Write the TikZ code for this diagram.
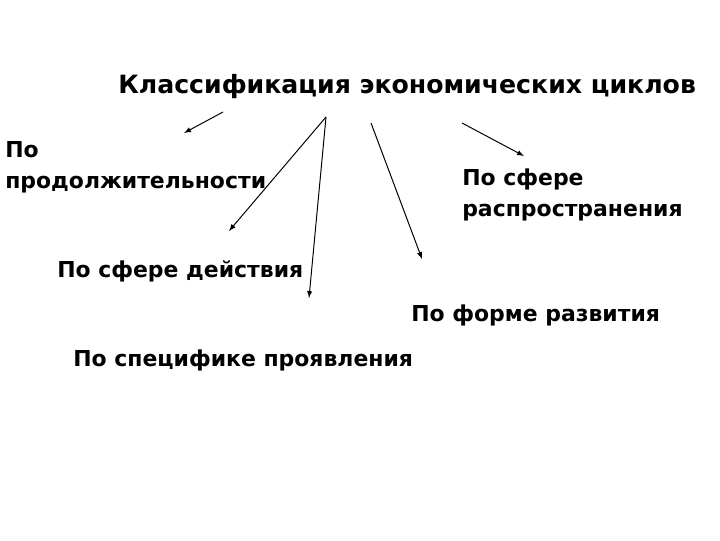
\documentclass[tikz,border=0pt]{standalone}
\usepackage{fontspec}
\setmainfont{DejaVu Sans}
\usepackage{tikz}
\usetikzlibrary{arrows}

\begin{document}
\begin{tikzpicture}[x=0.025cm, y=-0.025cm, thin]
        \useasboundingbox (0,0) rectangle (720,540);

        \tikzset{lbl/.style={inner sep=0pt, font=\fontsize{15.6}{22}\selectfont\bfseries},
                 arr/.style={-latex, line width=0.7pt}}

        % title
        \node (title) at (118,93) [lbl, anchor=base west, font=\fontsize{17.9}{22}\selectfont\bfseries] {Классификация экономических циклов};

        % groups
        \node (dur) at (5,167) [lbl, anchor=west, align=left] {По\\продолжительности};
        \node (spr) at (462,195) [lbl, anchor=west, align=left] {По сфере\\распространения};
        \node (act) at (57,277) [lbl, anchor=base west] {По сфере действия};
        \node (frm) at (411,321) [lbl, anchor=base west] {По форме развития};
        \node (spc) at (73,366) [lbl, anchor=base west] {По специфике проявления};

        % arrow ends
        \coordinate (s1) at (223,112);
        \coordinate (e1) at (184,133);
        \coordinate (s2) at (326,117);
        \coordinate (e2) at (229,231);
        \coordinate (e3) at (309,298);
        \coordinate (s4) at (371,123);
        \coordinate (e4) at (422,259);
        \coordinate (s5) at (462,123);
        \coordinate (e5) at (524,156);

        % connections
        \draw[arr] (s1) -- (e1);
        \draw[arr] (s2) -- (e2);
        \draw[arr] (s2) -- (e3);
        \draw[arr] (s4) -- (e4);
        \draw[arr] (s5) -- (e5);
\end{tikzpicture}
\end{document}
